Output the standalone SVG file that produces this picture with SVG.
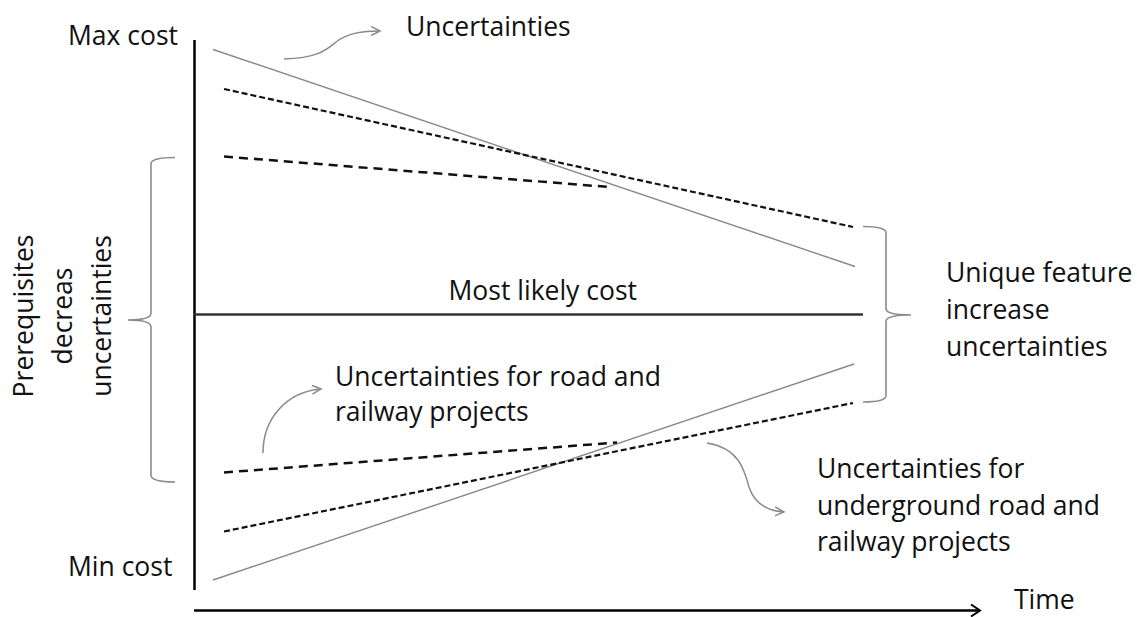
<svg xmlns="http://www.w3.org/2000/svg" width="1137" height="617" viewBox="0 0 1137 617">
<style>
text{font-family:"Open Sans","Liberation Sans",sans-serif;font-size:26.5px;fill:#111}
.axis{stroke:#000;stroke-width:2.5;fill:none}
.gray{stroke:#888;stroke-width:1.4;fill:none}
.sd{stroke:#111;stroke-width:2.2;stroke-dasharray:6 3;fill:none}
.ld{stroke:#111;stroke-width:2.5;stroke-dasharray:9 6;fill:none}
.brace{stroke:#8a8a8a;stroke-width:1.6;fill:none}
.curve{stroke:#8a8a8a;stroke-width:1.5;fill:none;marker-end:url(#open)}
</style>
<defs>
<marker id="open" markerUnits="userSpaceOnUse" markerWidth="12" markerHeight="12" refX="9" refY="5" orient="auto">
<path d="M0,0.5 L9,5 L0,9.5" fill="none" stroke="#8a8a8a" stroke-width="1.5"/>
</marker>
<marker id="axhead" markerUnits="userSpaceOnUse" markerWidth="14" markerHeight="16" refX="10" refY="7" orient="auto">
<path d="M1,1 L10,7 L1,13" fill="none" stroke="#000" stroke-width="2"/>
</marker>
</defs>
<rect width="1137" height="617" fill="#fff"/>
<g id="connectors">
<line class="axis" x1="194.5" y1="40" x2="194.5" y2="590"/>
<line class="axis" x1="194" y1="610.5" x2="980" y2="610.5" marker-end="url(#axhead)"/>
<line x1="194" y1="314.5" x2="863" y2="314.5" stroke="#333" stroke-width="2.5"/>
<line class="gray" x1="213" y1="49.5" x2="855" y2="266.5"/>
<line class="sd" x1="224" y1="89" x2="853" y2="227"/>
<line class="ld" x1="224" y1="156.5" x2="609" y2="187"/>
<line class="gray" x1="213" y1="580" x2="854" y2="364"/>
<line class="sd" x1="224" y1="531.5" x2="853" y2="403"/>
<line class="ld" x1="224" y1="472.5" x2="617" y2="442.5"/>
<path class="brace" d="M175,157.5 Q151,157.5 151,164 L151,313 Q151,320 128,320 Q151,320 151,327 L151,475 Q151,482 175,482"/>
<path class="brace" d="M863,226.5 Q886,226.5 886,233 L886,308.5 Q886,315 911,315 Q886,315 886,321.5 L886,395.5 Q886,402 863,402"/>
<path class="curve" d="M284,59 C318,58 326,50 336,42 C348,33 362,31 380,31"/>
<path class="curve" d="M263,453 C263,420 285,392 321,389"/>
<path class="curve" d="M707,443 C738,448 744,468 749,487 C755,505 768,511 784,512"/>
</g>
<g id="label-max"><text x="68" y="45">Max cost</text></g>
<g id="label-min"><text x="68" y="576">Min cost</text></g>
<g id="label-uncert"><text x="406" y="36">Uncertainties</text></g>
<g id="label-most"><text x="637" y="300" text-anchor="end">Most likely cost</text></g>
<g id="label-road"><text x="335" y="386">Uncertainties for road and</text><text x="335" y="421">railway projects</text></g>
<g id="label-underground"><text x="817" y="478">Uncertainties for</text><text x="817" y="515">underground road and</text><text x="817" y="551">railway projects</text></g>
<g id="label-unique"><text x="946" y="282">Unique feature</text><text x="946" y="319">increase</text><text x="946" y="356">uncertainties</text></g>
<g id="label-prereq" transform="translate(0,316) rotate(-90)"><text x="0" y="33" text-anchor="middle">Prerequisites</text><text x="0" y="72" text-anchor="middle">decreas</text><text x="0" y="111" text-anchor="middle">uncertainties</text></g>
<g id="label-time"><text x="1014" y="609">Time</text></g>
</svg>
